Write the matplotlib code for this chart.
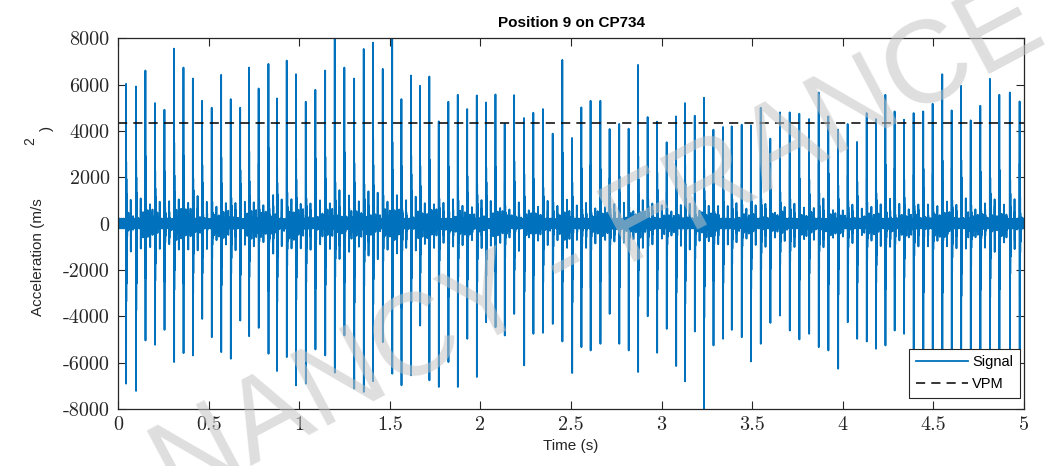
import numpy as np
import matplotlib
matplotlib.use("Agg")
import matplotlib.pyplot as plt

# spike events: time (s), positive peak, negative peak (m/s^2)
spike_t = [0.044, 0.099, 0.151, 0.204, 0.256, 0.309, 0.361, 0.413, 0.464, 0.517,
           0.569, 0.622, 0.674, 0.723, 0.776, 0.830, 0.877, 0.931, 0.982, 1.036,
           1.089, 1.143, 1.196, 1.249, 1.303, 1.356, 1.407, 1.461, 1.513, 1.564,
           1.617, 1.667, 1.718, 1.770, 1.823, 1.875, 1.927, 1.980, 2.031, 2.083,
           2.134, 2.186, 2.241, 2.292, 2.345, 2.399, 2.452, 2.506, 2.557, 2.608,
           2.662, 2.713, 2.766, 2.818, 2.870, 2.923, 2.975, 3.028, 3.080, 3.129,
           3.183, 3.234, 3.286, 3.339, 3.387, 3.442, 3.493, 3.547, 3.600, 3.653,
           3.707, 3.760, 3.814, 3.867, 3.920, 3.974, 4.027, 4.079, 4.132, 4.183,
           4.235, 4.286, 4.338, 4.391, 4.444, 4.496, 4.549, 4.601, 4.653, 4.706,
           4.759, 4.812, 4.864, 4.922, 4.976]
spike_hi = [6030, 5917, 6605, 5200, 4914, 7550, 6733, 6261, 5300, 5000,
            6418, 5372, 5000, 6733, 5831, 6891, 5401, 7034, 6447, 5258,
            5774, 6605, 8100, 6733, 6261, 7536, 7808, 6676, 8200, 5372,
            6390, 5946, 6347, 4413, 5258, 5559, 4943, 5530, 5229, 5573,
            4298, 5544, 4556, 4785, 4943, 3883, 7063, 3696, 5014, 5300,
            5300, 4083, 4300, 4097, 6848, 4599, 4398, 3510, 4628, 5200,
            4656, 5430, 4054, 4169, 4198, 4270, 4241, 5000, 3668, 4800,
            4800, 4742, 4513, 5659, 4628, 4054, 4298, 3524, 4771, 4513,
            5559, 4842, 4484, 4771, 4842, 5172, 6447, 4885, 5946, 4456,
            5086, 6246, 5559, 5659, 5272]
spike_lo = [-6905, -7220, -5043, -5229, -4585, -5974, -5587, -5688, -4112, -4900,
            -5544, -5831, -4183, -4857, -4500, -5616, -6361, -5759, -6977, -6905,
            -5430, -5688, -6433, -4828, -7120, -7264, -6800, -5115, -6476, -6977,
            -6547, -4400, -6762, -7049, -5974, -7049, -4971, -6619, -4255, -4470,
            -4828, -3897, -6117, -4756, -4713, -4327, -5086, -6447, -5330, -5473,
            -5186, -3897, -5186, -5473, -6404, -3997, -5573, -4541, -6146, -6805,
            -4656, -8200, -5258, -4971, -4585, -4900, -5946, -5186, -4284, -3968,
            -4613, -5000, -4756, -5330, -5473, -6261, -4255, -4971, -5086, -5401,
            -5258, -4613, -4756, -5600, -5900, -5800, -6100, -5700, -6000, -5600,
            -5900, -6300, -5800, -6000, -6189]

# ringing after each impact (fraction of the peak), bursts between impacts, background noise
ring = [0.45, -0.5, 0.3, -0.35, 0.2, -0.22, 0.12, -0.14, 0.08, -0.09, 0.05, -0.05]
mid_burst = [950, -1050, 500, -550, 250, -250]
quarter_burst = [380, -420, 200, -200]
noise = [120, -180, 70, -150, 200, -60, 160, -110, 40, -210, 140, -90,
         190, -30, 100, -170, 60, -130, 220, -70, 150, -40, 90]

vpm = 4340
fs = 2000
duration = 5.0

n = int(duration * fs) + 1
t = np.arange(n) / fs
sig = np.resize(np.array(noise, dtype=float), n)

for ts, hi, lo in zip(spike_t, spike_hi, spike_lo):
    k = int(round(ts * fs))
    sig[k] = hi
    sig[k + 1] = lo
    for j, r in enumerate(ring):
        idx = k + 2 + j
        if idx < n:
            sig[idx] += r * (hi if r > 0 else -lo)
    scale = hi / 6000
    for off, burst in ((52, mid_burst), (26, quarter_burst), (78, quarter_burst)):
        for j, b in enumerate(burst):
            idx = k + off + j
            if idx < n:
                sig[idx] += b * scale

plt.rcParams['axes.unicode_minus'] = False

fig = plt.figure(figsize=(10.54, 4.66), dpi=100)
ax = fig.add_axes([0.112, 0.1223, 0.8595, 0.7957])

ax.plot(t, sig, color="#0072BD", lw=1.3, label="Signal")
ax.plot([0, duration], [vpm, vpm], color="black", lw=1.1, ls=(0, (6, 4)), label="VPM")

ax.set_xlim(0, 5)
ax.set_ylim(-8000, 8000)
ax.set_xticks(np.arange(0, 5.01, 0.5))
ax.set_xticklabels(["0", "0.5", "1", "1.5", "2", "2.5", "3", "3.5", "4", "4.5", "5"])
ax.set_yticks(np.arange(-8000, 8001, 2000))

for s in ax.spines.values():
    s.set_color("#262626")
    s.set_linewidth(0.9)
ax.tick_params(direction="in", length=6, width=0.8, color="#262626",
               top=True, right=True, labelsize=14.5, labelfontfamily="cmr10",
               labelcolor="#262626")
ax.tick_params(axis="x", pad=5)
ax.tick_params(axis="y", pad=6)

ax.set_title("Position 9 on CP734", fontsize=11, fontweight="bold",
             family="Liberation Sans", pad=8)
ax.set_xlabel("Time (s)", fontsize=11, family="Liberation Sans", labelpad=4,
              color="#262626")

# y label drawn the way the original renders it
fig.text(38 / 1054, 1 - 257 / 466, "Acceleration (m/s", rotation=90, fontsize=11,
         family="Liberation Sans", ha="center", va="center", color="#262626")
fig.text(30 / 1054, 1 - 141 / 466, "2", rotation=90, fontsize=10,
         family="Liberation Sans", ha="center", va="center", color="#262626")
fig.text(47 / 1054, 1 - 128 / 466, ")", rotation=90, fontsize=11,
         family="Liberation Sans", ha="center", va="center", color="#262626")

leg = ax.legend(loc="lower right", bbox_to_anchor=(1 - 4 / 906, 11 / 371),
                borderaxespad=0, fancybox=False, framealpha=1, edgecolor="#262626",
                prop={"family": "Liberation Sans", "size": 10.5}, handlelength=3.6,
                borderpad=0.45, labelspacing=0.55, handletextpad=0.3)
leg.get_frame().set_linewidth(0.8)

# watermark
fig.text(0.568, 0.47, "NANCY - FRANCE", fontsize=84, family="Liberation Sans",
         color="#c4c4c4", alpha=0.55, rotation=28, ha="center", va="center",
         zorder=10)

fig.savefig("out.png", dpi=100)
